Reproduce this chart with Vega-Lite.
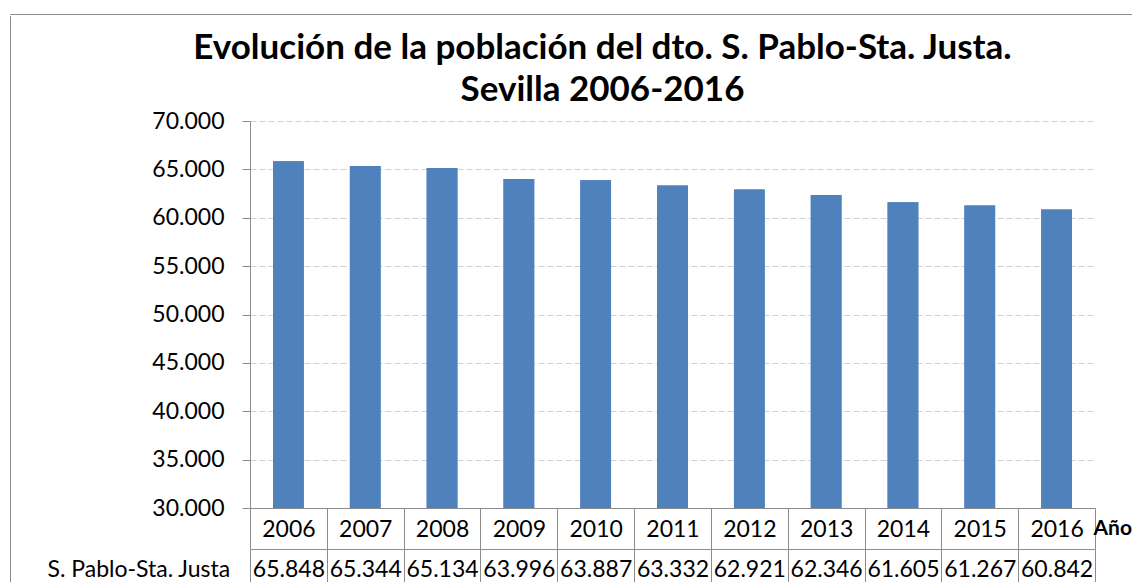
{
  "$schema": "https://vega.github.io/schema/vega-lite/v6.json",
  "padding": {"left": 9, "top": 13, "right": 0, "bottom": 0},
  "background": "white",
  "config": {
    "locale": {"number": {"decimal": ",", "thousands": ".", "grouping": [3], "currency": ["", " €"]}},
    "font": "Lato",
    "view": {"stroke": null}
  },
  "datasets": {
    "pob": [
      {"anio": "2006", "poblacion": 65848},
      {"anio": "2007", "poblacion": 65344},
      {"anio": "2008", "poblacion": 65134},
      {"anio": "2009", "poblacion": 63996},
      {"anio": "2010", "poblacion": 63887},
      {"anio": "2011", "poblacion": 63332},
      {"anio": "2012", "poblacion": 62921},
      {"anio": "2013", "poblacion": 62346},
      {"anio": "2014", "poblacion": 61605},
      {"anio": "2015", "poblacion": 61267},
      {"anio": "2016", "poblacion": 60842}
    ]
  },
  "spacing": 0,
  "vconcat": [
    {
      "width": 1122,
      "height": 0.01,
      "data": {"values": []},
      "mark": "point",
      "view": {"stroke": "#8C8C8C", "strokeWidth": 1}
    },
    {
      "spacing": 36,
      "hconcat": [
        {
          "width": 0.01,
          "height": 580,
          "data": {"values": []},
          "mark": "point",
          "view": {"stroke": "#8C8C8C", "strokeWidth": 1}
        },
        {
          "spacing": 0,
          "vconcat": [
            {
              "width": 0.01,
              "height": 15,
              "data": {"values": []},
              "mark": "point"
            },
            {
              "width": 845,
              "height": 387,
              "data": {"name": "pob"},
              "title": {
                "text": ["Evolución de la población del dto. S. Pablo-Sta. Justa.", "Sevilla 2006-2016"],
                "font": "Lato",
                "fontSize": 35,
                "fontWeight": "bold",
                "color": "black",
                "lineHeight": 42,
                "anchor": "middle",
                "frame": "group",
                "dx": -70,
                "offset": 2
              },
              "encoding": {
                "y": {
                  "field": "poblacion",
                  "type": "quantitative",
                  "scale": {"domain": [30000, 70000], "zero": false, "nice": false},
                  "axis": {
                    "title": null,
                    "values": [30000, 35000, 40000, 45000, 50000, 55000, 60000, 65000, 70000],
                    "format": ",d",
                    "labelFont": "Lato",
                    "labelFontSize": 23,
                    "labelColor": "black",
                    "labelPadding": 18,
                    "tickSize": 8,
                    "tickColor": "#8C8C8C",
                    "domainColor": "#8C8C8C",
                    "grid": true,
                    "gridColor": "#D0D0D0",
                    "gridDash": [6, 3]
                  }
                },
                "y2": {"datum": 30000}
              },
              "layer": [
                {
                  "mark": {"type": "bar", "width": {"band": 0.4}, "color": "#4F81BD"},
                  "encoding": {
                    "x": {
                      "field": "anio",
                      "type": "ordinal",
                      "scale": {"paddingInner": 0, "paddingOuter": 0},
                      "axis": {
                        "orient": "bottom",
                        "title": "Años",
                        "titleFont": "Lato",
                        "titleFontSize": 21,
                        "titleFontWeight": "bold",
                        "titleColor": "black",
                        "titleAngle": 0,
                        "titleAlign": "left",
                        "titleBaseline": "middle",
                        "titleAnchor": "start",
                        "titleX": 843,
                        "titleY": 20,
                        "labelAngle": 0,
                        "labelFont": "Lato",
                        "labelFontSize": 23,
                        "labelColor": "black",
                        "labelBaseline": "middle",
                        "labelPadding": -20,
                        "labelFlush": false,
                        "tickBand": "extent",
                        "tickSize": 41,
                        "tickColor": "#8C8C8C",
                        "domainColor": "#8C8C8C",
                        "grid": false
                      }
                    }
                  }
                },
                {
                  "mark": {"type": "bar", "width": {"band": 0.4}, "color": "#4F81BD"},
                  "encoding": {
                    "x": {
                      "field": "poblacion",
                      "type": "ordinal",
                      "sort": "descending",
                      "scale": {"paddingInner": 0, "paddingOuter": 0},
                      "axis": {
                        "orient": "bottom",
                        "offset": 41,
                        "format": ",d",
                        "formatType": "number",
                        "title": "S. Pablo-Sta. Justa",
                        "titleFont": "Lato",
                        "titleFontSize": 23,
                        "titleFontWeight": "normal",
                        "titleColor": "black",
                        "titleAngle": 0,
                        "titleAlign": "left",
                        "titleBaseline": "middle",
                        "titleAnchor": "start",
                        "titleX": -203,
                        "titleY": 20,
                        "labelAngle": 0,
                        "labelFont": "Lato",
                        "labelFontSize": 23,
                        "labelColor": "black",
                        "labelBaseline": "middle",
                        "labelPadding": -21,
                        "labelFlush": false,
                        "labelOverlap": false,
                        "tickBand": "extent",
                        "tickSize": 41,
                        "tickColor": "#8C8C8C",
                        "domainColor": "#8C8C8C",
                        "grid": false
                      }
                    }
                  }
                }
              ],
              "resolve": {"scale": {"x": "independent"}, "axis": {"x": "independent"}}
            }
          ]
        }
      ]
    }
  ]
}
